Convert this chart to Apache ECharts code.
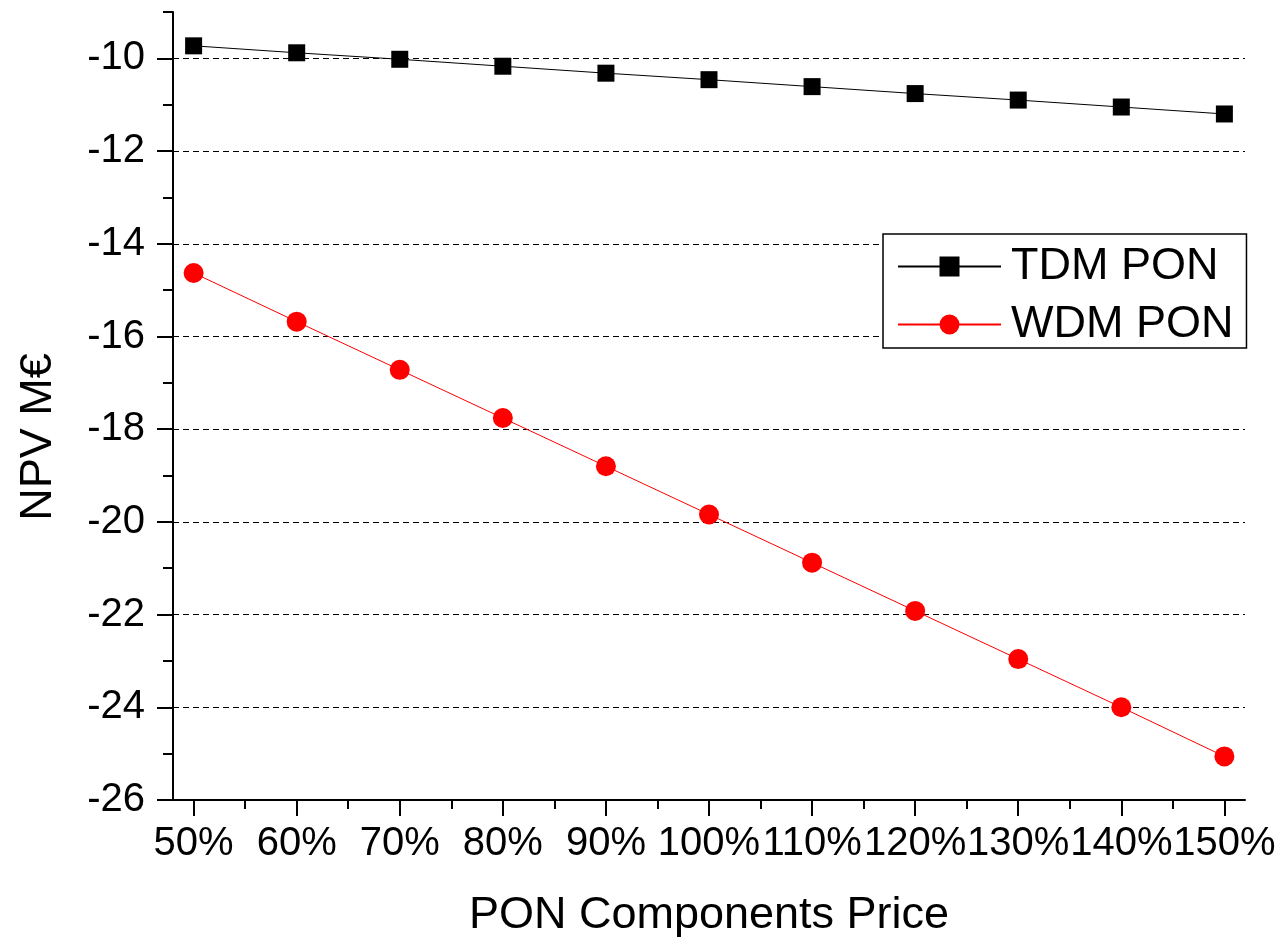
<!DOCTYPE html>
<html>
<head>
<meta charset="utf-8">
<script src="https://cdn.jsdelivr.net/npm/echarts@6/dist/echarts.min.js"></script>
<style>
  html, body { margin: 0; padding: 0; background: #fff; }
  #chart { width: 1281px; height: 943px; }
</style>
</head>
<body>
<div id="chart"></div>
<script>
// PON component price, percent of base
var priceLevels = [50, 60, 70, 80, 90, 100, 110, 120, 130, 140, 150];
// NPV in M€
var tdmPon = [-9.73, -9.88, -10.02, -10.17, -10.32, -10.46, -10.61, -10.76, -10.90, -11.05, -11.20];
var wdmPon = [-14.63, -15.68, -16.72, -17.76, -18.80, -19.84, -20.88, -21.92, -22.96, -24.00, -25.06];
// tick marks
var xTicks = [50, 60, 70, 80, 90, 100, 110, 120, 130, 140, 150];
var xMinor = [55, 65, 75, 85, 95, 105, 115, 125, 135, 145];
var yTicks = [-26, -24, -22, -20, -18, -16, -14, -12, -10];
var yMinor = [-25, -23, -21, -19, -17, -15, -13, -11, -9];

var font = "'Liberation Sans', Arial, sans-serif";

function pairs(ys) {
  return priceLevels.map(function (x, i) { return [x, ys[i]]; });
}

var chart = echarts.init(document.getElementById("chart"));
chart.setOption({
  animation: false,
  backgroundColor: "#fff",
  grid: { left: 173, right: 36, top: 12, bottom: 143 },
  legend: {
    data: ["TDM PON", "WDM PON"],
    orient: "vertical",
    left: 883,
    top: 234,
    itemWidth: 103,
    itemHeight: 25,
    itemGap: 13,
    padding: [10, 13, 1, 14],
    borderColor: "#000",
    borderWidth: 1.5,
    borderRadius: 0,
    backgroundColor: "#fff",
    textStyle: { fontFamily: font, fontSize: 45, color: "#000", padding: [0, 0, 0, 5] }
  },
  xAxis: [
    {
      type: "value",
      min: 48,
      max: 152,
      name: "PON Components Price",
      nameLocation: "middle",
      nameGap: 93,
      nameTextStyle: { fontFamily: font, fontSize: 45, color: "#000" },
      axisLine: { lineStyle: { color: "#000", width: 2 } },
      axisTick: { customValues: xTicks, length: 16, lineStyle: { color: "#000", width: 2 } },
      axisLabel: {
        customValues: xTicks,
        formatter: "{value}%",
        fontFamily: font,
        fontSize: 40,
        color: "#000",
        margin: 24
      },
      splitLine: { show: false }
    },
    {
      // minor ticks only
      type: "value",
      min: 48,
      max: 152,
      position: "bottom",
      axisLine: { show: false },
      axisTick: { customValues: xMinor, length: 9, lineStyle: { color: "#000", width: 2 } },
      axisLabel: { show: false },
      splitLine: { show: false }
    }
  ],
  yAxis: [
    {
      type: "value",
      min: -26,
      max: -9,
      name: "NPV M€",
      nameLocation: "middle",
      nameGap: 112,
      nameTextStyle: { fontFamily: font, fontSize: 45, color: "#000", padding: [0, 62, 0, 0] },
      axisLine: { show: true, lineStyle: { color: "#000", width: 2 } },
      axisTick: { show: true, customValues: yTicks, length: 16, lineStyle: { color: "#000", width: 2 } },
      axisLabel: {
        customValues: yTicks,
        fontFamily: font,
        fontSize: 40,
        color: "#000",
        margin: 28
      },
      splitLine: { show: true, lineStyle: { color: "#000", width: 1, type: [6, 4] } }
    },
    {
      type: "value",
      min: -26,
      max: -9,
      position: "left",
      axisLine: { show: false },
      axisTick: { show: true, customValues: yMinor, length: 10, lineStyle: { color: "#000", width: 2 } },
      axisLabel: { show: false },
      splitLine: { show: false }
    }
  ],
  series: [
    {
      name: "TDM PON",
      type: "line",
      data: pairs(tdmPon),
      symbol: "rect",
      symbolSize: 17,
      itemStyle: { color: "#000" },
      lineStyle: { color: "#000", width: 1 }
    },
    {
      name: "WDM PON",
      type: "line",
      data: pairs(wdmPon),
      symbol: "circle",
      symbolSize: 20,
      itemStyle: { color: "#ff0000" },
      lineStyle: { color: "#ff0000", width: 1 }
    }
  ]
});
</script>
</body>
</html>
